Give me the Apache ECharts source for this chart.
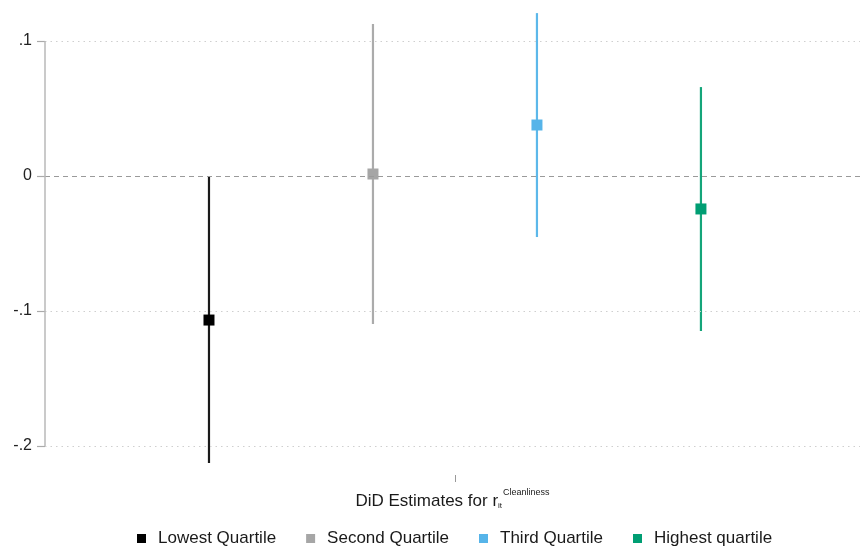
<!DOCTYPE html>
<html><head><meta charset="utf-8">
<script src="https://cdn.jsdelivr.net/npm/echarts@6/dist/echarts.min.js"></script>
<style>html,body{margin:0;padding:0;background:#fff}#c{width:860px;height:552px}</style>
</head><body><div id="c"></div>
<script>
const categories = ['Lowest Quartile', 'Second Quartile', 'Third Quartile', 'Highest quartile'];
const xPositions = [1, 2, 3, 4];
const estimates = [-0.1067, 0.0015, 0.0378, -0.0244];
const ciLower = [-0.2126, -0.1096, -0.0452, -0.1148];
const ciUpper = [0.0000, 0.1126, 0.1207, 0.0659];
const yTicks = [0.1, 0, -0.1, -0.2];
const yTickLabels = ['.1', '0', '-.1', '-.2'];
const colors = ['#000000', '#a6a6a6', '#56b4e9', '#009e73'];
const lineColors = ['#1a1a1a', '#ababab', '#5cb8ea', '#14a57a'];

const font = "'Liberation Sans', Arial, sans-serif";
const chart = echarts.init(document.getElementById('c'), null, {renderer: 'canvas'});

const series = [];
series.push({
  type: 'line', data: [], silent: true, symbol: 'none',
  markLine: {
    silent: true, symbol: 'none', label: {show: false}, animation: false,
    data: [
      {yAxis: yTicks[0], lineStyle: {color: '#cfcfcf', type: [1.5, 4], width: 1}},
      {yAxis: yTicks[2], lineStyle: {color: '#cfcfcf', type: [1.5, 4], width: 1}},
      {yAxis: yTicks[3], lineStyle: {color: '#cfcfcf', type: [1.5, 4], width: 1}},
      {yAxis: yTicks[1], lineStyle: {color: '#9a9a9a', type: [5, 4], width: 1.2}},
      [{coord: [0, yTicks[0]], lineStyle: {color: '#b8b8b8', type: 'solid', width: 1.5}}, {coord: [0, yTicks[3]]}]
    ]
  }
});
categories.forEach((name, i) => {
  series.push({
    name, type: 'line', symbol: 'none', silent: true, animation: false,
    data: [[xPositions[i], ciLower[i]], [xPositions[i], ciUpper[i]]],
    lineStyle: {color: lineColors[i], width: 2.2}, z: 2
  });
  series.push({
    name, type: 'scatter', symbol: 'rect', symbolSize: 11, animation: false,
    data: [[xPositions[i], estimates[i]]],
    itemStyle: {color: colors[i], opacity: 1}, z: 3
  });
});

chart.setOption({
  animation: false,
  grid: {left: 45, right: 0, top: 10, bottom: 77, containLabel: false},
  xAxis: {
    type: 'value', min: 0, max: 4.97,
    axisLine: {show: false, onZero: false}, splitLine: {show: false}, axisLabel: {show: false},
    axisTick: {show: true, customValues: [2.5], length: 7, lineStyle: {color: '#999', width: 1}},
    name: '{a|DiD Estimates for r}{b|it}{c|Cleanliness}',
    nameLocation: 'middle', nameGap: 13,
    nameTextStyle: {
      fontFamily: font,
      rich: {
        a: {fontSize: 17, color: '#1a1a1a', fontFamily: font},
        b: {fontSize: 8, color: '#1a1a1a', fontFamily: font, verticalAlign: 'middle', padding: [8, 1, 0, 0]},
        c: {fontSize: 9, color: '#1a1a1a', fontFamily: font, verticalAlign: 'top', padding: [0, 0, 18, 0]}
      }
    }
  },
  yAxis: {
    type: 'value', min: -0.2215, max: 0.123,
    axisLine: {show: false}, splitLine: {show: false},
    axisTick: {show: true, customValues: yTicks, length: 8, lineStyle: {color: '#aaa', width: 1.2}},
    axisLabel: {
      customValues: yTicks, margin: 13, fontSize: 16, color: '#222', fontFamily: font,
      formatter: v => { const k = yTicks.findIndex(t => Math.abs(t - v) < 1e-9); return k >= 0 ? yTickLabels[k] : ''; }
    }
  },
  legend: {
    bottom: 0, left: 132, itemWidth: 9, itemHeight: 9, itemGap: 30,
    data: categories.map((n, i) => ({name: n, icon: 'rect', itemStyle: {color: colors[i]}})),
    textStyle: {fontSize: 17, color: '#1a1a1a', fontFamily: font, padding: [0, 0, 0, 7]}
  },
  series
});
</script></body></html>
